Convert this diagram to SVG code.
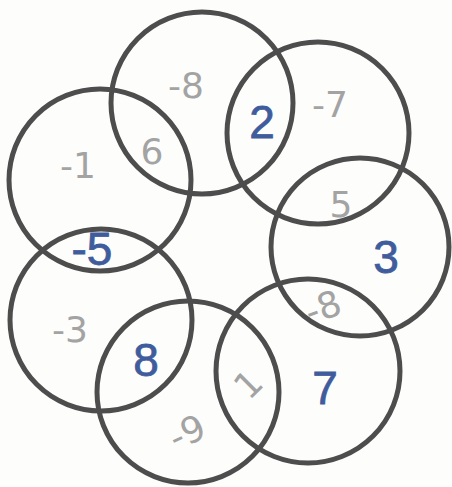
<svg xmlns="http://www.w3.org/2000/svg" width="452" height="487" viewBox="0 0 452 487">
<style>
.c{fill:none;stroke:#4d4d4d;stroke-width:5}
.b{fill:#3f5c9c;font-family:"Liberation Sans",Arial,sans-serif;font-size:46px;text-anchor:middle;stroke:#3f5c9c;stroke-width:0.8}
.g{fill:#a3a3a3;font-family:"DejaVu Sans",sans-serif;font-size:36px;text-anchor:middle}
</style>
<rect width="452" height="487" fill="#fdfdfb"/>
<g id="circles">
<g id="cA"><circle class="c" cx="202" cy="103" r="91"/></g>
<g id="cB"><circle class="c" cx="318" cy="133" r="91"/></g>
<g id="cC"><circle class="c" cx="100" cy="180" r="91"/></g>
<g id="cD"><circle class="c" cx="360" cy="247" r="89"/></g>
<g id="cE"><circle class="c" cx="101" cy="320" r="91"/></g>
<g id="cF"><circle class="c" cx="188" cy="392" r="91"/></g>
<g id="cG"><circle class="c" cx="308" cy="371" r="92"/></g>
</g>
<g id="labels">
<text class="g" x="186" y="98">-8</text>
<text class="g" x="152" y="164" font-size="48">6</text>
<text class="g" x="78" y="178">-1</text>
<text class="b" x="262" y="138">2</text>
<text class="g" x="330" y="117">-7</text>
<text class="g" x="341" y="217" font-size="40">5</text>
<text class="b" x="386" y="273">3</text>
<text class="b" x="92" y="265">-5</text>
<text class="g" x="70" y="342" font-size="40">-3</text>
<text class="b" x="146" y="376">8</text>
<text class="g" x="186" y="445" transform="rotate(-25 186 430)">-9</text>
<text class="g" x="248" y="397" transform="rotate(-45 248 384)">1</text>
<text class="g" x="322" y="320" transform="rotate(-20 322 305)">-8</text>
<text class="b" x="325" y="404">7</text>
</g>
</svg>
